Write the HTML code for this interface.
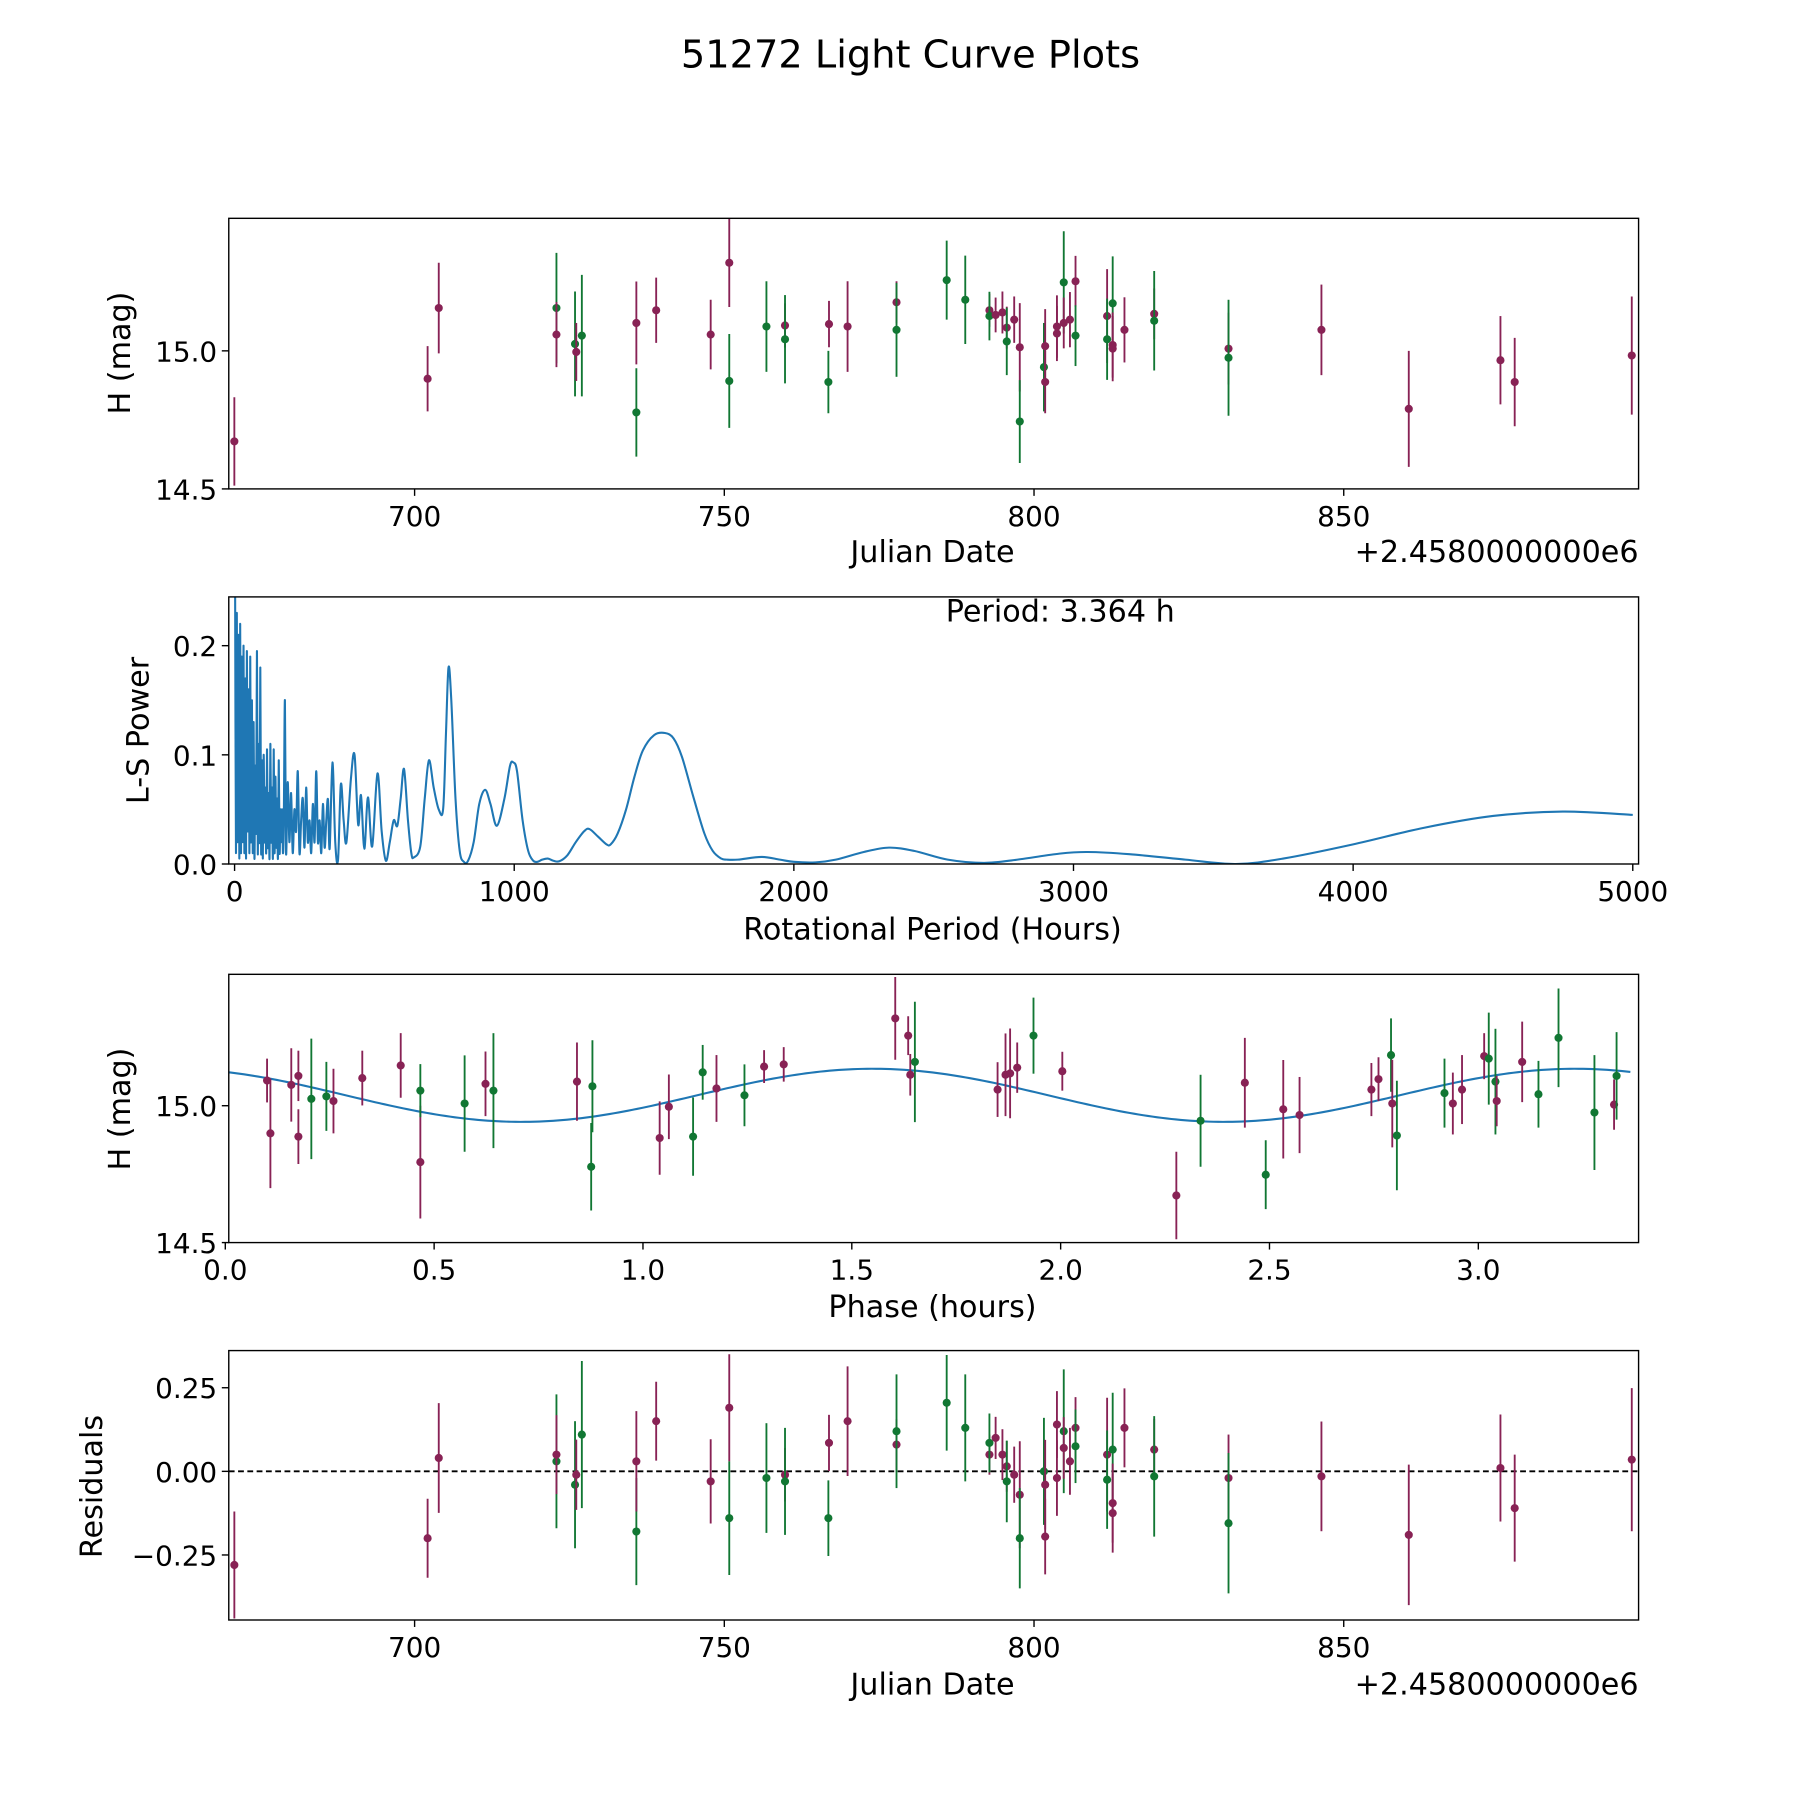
<!DOCTYPE html>
<html><head><meta charset="utf-8"><title>51272 Light Curve Plots</title>
<style>
html,body{margin:0;padding:0;background:#fff;}
svg{display:block;font-family:"DejaVu Sans","Liberation Sans",sans-serif;}
</style></head>
<body>
<svg id="fig" width="1800" height="1800" viewBox="0 0 1550 1550" xmlns="http://www.w3.org/2000/svg">
<rect width="1550" height="1550" fill="#fff"/>
<text x="784" y="58" font-size="33" text-anchor="middle">51272 Light Curve Plots</text>
<defs>
<clipPath id="c1"><rect x="197" y="188" width="1214" height="233"/></clipPath>
<clipPath id="c2"><rect x="197" y="514" width="1214" height="230"/></clipPath>
<clipPath id="c3"><rect x="197" y="839" width="1214" height="231"/></clipPath>
<clipPath id="c4"><rect x="197" y="1163" width="1214" height="232"/></clipPath>
</defs>
<g id="g1"></g>
<g id="g2"></g>
<g id="g3"></g>
<g id="g4"></g>
</svg>
<script>
// ---- data: light curve ----
const jd = [670.9,702.1,703.9,722.9,722.9,725.9,726.1,727.0,735.8,735.8,739.0,747.8,750.8,750.8,756.8,759.8,759.8,766.8,766.9,769.9,777.8,777.8,785.9,788.9,792.8,792.8,793.8,794.9,795.6,795.6,796.8,797.7,797.7,801.6,801.8,801.8,803.7,803.7,804.8,804.8,805.8,806.7,806.7,811.8,811.8,812.7,812.7,812.7,814.6,819.4,819.4,831.4,831.4,846.4,860.5,875.3,877.6,896.5];
const mag = [14.672,14.899,15.155,15.155,15.059,15.025,14.996,15.055,14.777,15.101,15.147,15.059,15.319,14.891,15.088,15.092,15.042,14.887,15.097,15.088,15.176,15.076,15.256,15.185,15.147,15.126,15.13,15.139,15.084,15.034,15.113,15.013,14.744,14.941,15.017,14.887,15.063,15.088,15.248,15.101,15.113,15.252,15.055,15.126,15.042,15.172,15.021,15.008,15.076,15.134,15.109,15.008,14.975,15.076,14.79,14.966,14.887,14.983];
const magErr = [.16,.118,.164,.2,.118,.19,.105,.22,.16,.15,.118,.126,.16,.17,.164,.08,.16,.113,.084,.164,.076,.17,.143,.16,.06,.088,.063,.076,.076,.122,.084,.16,.15,.16,.134,.113,.1,.113,.185,.092,.1,.092,.11,.17,.147,.17,.118,.118,.118,.092,.18,.13,.21,.164,.21,.16,.16,.214];
const band = ["m","m","m","g","m","g","m","g","g","m","m","m","m","g","g","m","g","g","m","m","m","g","g","g","m","g","m","m","m","g","m","m","g","g","m","m","m","m","g","m","m","m","g","m","g","g","m","m","m","m","g","m","g","m","m","m","m","m"];
const residual = [-0.28,-0.20,0.04,0.03,0.05,-0.04,-0.01,0.11,-0.18,0.03,0.15,-0.03,0.19,-0.14,-0.02,-0.01,-0.03,-0.14,0.085,0.15,0.08,0.12,0.205,0.13,0.05,0.085,0.10,0.05,0.015,-0.03,-0.01,-0.07,-0.20,0.0,-0.04,-0.195,0.14,-0.02,0.12,0.07,0.03,0.13,0.075,0.05,-0.025,0.065,-0.095,-0.125,0.13,0.065,-0.015,-0.02,-0.155,-0.015,-0.19,0.01,-0.11,0.035];
// ---- data: phase folded ----
const phase = [.100,.108,.158,.175,.175,.206,.242,.259,.328,.420,.467,.467,.573,.623,.642,.842,.879,.876,1.040,1.062,1.120,1.143,1.176,1.243,1.290,1.337,1.604,1.635,1.651,1.640,1.849,1.868,1.879,1.896,1.935,2.004,2.277,2.335,2.441,2.491,2.533,2.572,2.744,2.761,2.791,2.794,2.805,2.919,2.939,2.961,3.014,3.025,3.041,3.044,3.105,3.144,3.192,3.278,3.325,3.331];
const phaseMag = [15.092,14.899,15.076,14.887,15.109,15.025,15.034,15.017,15.101,15.147,14.794,15.055,15.008,15.080,15.055,15.088,15.071,14.777,14.882,14.996,14.887,15.122,15.063,15.038,15.143,15.151,15.319,15.256,15.160,15.113,15.059,15.113,15.118,15.139,15.256,15.126,14.672,14.945,15.084,14.748,14.987,14.966,15.059,15.097,15.185,15.008,14.891,15.046,15.008,15.059,15.181,15.172,15.088,15.017,15.160,15.042,15.248,14.975,15.004,15.109];
const phaseErr = [.08,.2,.134,.1,.092,.22,.126,.118,.1,.118,.206,.097,.176,.118,.21,.143,.168,.16,.134,.118,.143,.1,.122,.113,.06,.063,.151,.071,.22,.076,.1,.151,.164,.092,.139,.071,.16,.168,.164,.126,.18,.139,.097,.08,.134,.16,.2,.126,.113,.126,.084,.168,.193,.092,.147,.122,.18,.21,.092,.16];
const phaseBand = ["m","m","m","m","m","g","g","m","m","m","m","g","g","m","g","m","g","g","m","m","g","g","m","g","m","m","m","m","g","m","m","m","m","m","g","m","m","g","m","g","m","m","m","m","g","m","g","g","m","m","m","g","g","m","m","g","g","g","m","g"];
const fitMean = 15.038, fitAmp = 0.097, fitPeriod = 1.682, fitPeak = 1.55, foldLen = 3.364;
// ---- data: periodogram ----
const lsPeriod = [2,5,8,11,14,17,20,23,26,29,32,35,38,41,44,47,50,53,56,59,62,65,68,71,74,77,80,83,86,89,92,95,98,101,104,107,110,113,116,119,122,125,128,131,134,137,140,143,146,149,152,155,158,161,164,167,170,173,176,180,184,190,196,202,208,214,220,226,232,238,244,250,256,262,268,274,280,286,292,298,304,310,316,322,328,334,340,350,360,370,380,390,400,416,429,442,452,464,477,492,511,526,541,555,569,582,594,606,620,632,641,664,680,695,712,730,746,756,765,775,790,805,820,835,855,875,896,915,938,965,985,997,1010,1030,1050,1068,1083,1100,1120,1140,1161,1190,1220,1250,1269,1300,1330,1345,1370,1400,1430,1460,1500,1539,1570,1600,1640,1680,1710,1740,1760,1800,1884,1950,2000,2077,2150,2250,2340,2430,2550,2680,2800,2950,3050,3200,3400,3580,3750,4000,4250,4500,4750,5000];
const lsPower = [.245,.01,.23,.02,.21,.005,.22,.01,.19,.02,.2,.01,.17,.005,.195,.03,.16,.01,.19,.02,.15,.01,.13,.005,.09,.03,.195,.01,.11,.02,.18,.01,.095,.005,.10,.02,.07,.01,.105,.015,.065,.005,.11,.02,.07,.005,.105,.01,.08,.015,.06,.005,.095,.01,.05,.02,.05,.01,.04,.15,.01,.075,.02,.065,.01,.05,.03,.085,.01,.04,.06,.015,.07,.02,.04,.01,.055,.02,.085,.02,.04,.01,.055,.015,.04,.059,.014,.093,.02,.004,.073,.04,.02,.078,.1,.036,.063,.014,.061,.016,.083,.03,.003,.02,.04,.035,.06,.087,.04,.01,.006,.016,.06,.095,.07,.05,.051,.12,.18,.15,.06,.012,.002,.003,.02,.055,.068,.055,.035,.06,.09,.093,.085,.04,.012,.003,.002,.004,.005,.003,.0025,.008,.02,.03,.032,.025,.018,.018,.028,.05,.08,.104,.118,.12,.115,.098,.062,.028,.012,.005,.004,.004,.0065,.004,.002,.0015,.004,.011,.015,.012,.004,.001,.004,.0095,.011,.009,.004,.0,.005,.018,.033,.044,.048,.045];
// ---- ticks ----
const jdTicks = [700,750,800,850];
const magTicks = [14.5,15.0];
const lsXTicks = [0,1000,2000,3000,4000,5000];
const lsYTicks = [0.0,0.1,0.2];
const phaseTicks = [0.0,0.5,1.0,1.5,2.0,2.5,3.0];
const resTicks = [-0.25,0.0,0.25];

const NS="http://www.w3.org/2000/svg";
const COL={m:"#882255",g:"#117733"};
function mk(parent,tag,attrs,text){const e=document.createElementNS(NS,tag);for(const k in attrs)e.setAttribute(k,attrs[k]);if(text!==undefined)e.textContent=text;parent.appendChild(e);return e;}
function lin(d0,d1,r0,r1){return v=>r0+(v-d0)*(r1-r0)/(d1-d0);}
const L=197,R=1411;
const P=[{t:188,b:421},{t:514,b:744},{t:839,b:1070},{t:1163,b:1395}];
const x1=lin(670,897.6,L,R), y1=lin(14.5,15.48,421,188);
const x2=lin(0,5000,202,1406), y2=lin(0,0.2,744,556);
const x3=lin(0,3,194,1273), y3=lin(14.5,15.48,1070,839);
const x4=x1, y4=lin(0,0.25,1267,1195);
const TF=24, LF=26;

function frame(g,p){
  const r=mk(g,'rect',{x:L,y:p.t,width:R-L,height:p.b-p.t,fill:'none',stroke:'#000','stroke-width':1.2});
  
  
}
function xticks(g,p,vals,sx,fmt){
  vals.forEach(v=>{const x=sx(v);
    mk(g,'line',{x1:x,x2:x,y1:p.b,y2:p.b+6,stroke:'#000','stroke-width':1.2});
    const t=mk(g,'text',{x:x,y:p.b+32,'font-size':TF,'text-anchor':'middle'},fmt(v));
    
    
  });
}
function yticks(g,vals,sy,fmt){
  vals.forEach(v=>{const y=sy(v);
    mk(g,'line',{x1:L-6,x2:L,y1:y,y2:y,stroke:'#000','stroke-width':1.2});
    const t=mk(g,'text',{x:L-10,y:y+9,'font-size':TF,'text-anchor':'end'},fmt(v));
    
    
  });
}
function label(g,x,y,txt,name,rot,anchor){
  const t=mk(g,'text',{x:x,y:y,'font-size':LF,'text-anchor':anchor||'middle'},txt);
  if(rot)t.setAttribute('transform','rotate(-90 '+x+' '+y+')');
  
  
}
function errpts(g,xs,ys,es,bands,sx,sy,clip){
  const gg=mk(g,'g',{'clip-path':'url(#'+clip+')'});
  xs.forEach((xv,i)=>{const c=COL[bands[i]]||COL.m;const x=sx(xv),y=sy(ys[i]);
    const e=es[i];
    const ln=mk(gg,'line',{x1:x,x2:x,y1:sy(ys[i]-e),y2:sy(ys[i]+e),stroke:c,'stroke-width':1.6});
    
    
    const pt=mk(gg,'circle',{cx:x,cy:y,r:3.5,fill:c});
    
    
  });
}
function smoothPath(pts){
  let d='M'+pts[0][0]+','+pts[0][1];
  for(let i=0;i<pts.length-1;i++){
    const p0=pts[Math.max(0,i-1)],p1=pts[i],p2=pts[i+1],p3=pts[Math.min(pts.length-1,i+2)];
    const c1x=p1[0]+(p2[0]-p0[0])/6,c1y=p1[1]+(p2[1]-p0[1])/6;
    const c2x=p2[0]-(p3[0]-p1[0])/6,c2y=p2[1]-(p3[1]-p1[1])/6;
    d+=' C'+c1x+','+c1y+' '+c2x+','+c2y+' '+p2[0]+','+p2[1];
  }
  return d;
}
const f1=v=>v.toFixed(1), f0=v=>String(v), f2=v=>(v<0?'\u2212':'')+Math.abs(v).toFixed(2);

// panel 1
const g1=document.getElementById('g1');
errpts(g1,jd,mag,magErr,band,x1,y1,'c1');
frame(g1,P[0]);xticks(g1,P[0],jdTicks,x1,f0);yticks(g1,magTicks,y1,f1);
label(g1,803,484,'Julian Date','x-axis-title');
label(g1,1411,484,'+2.4580000000e6','x-offset-text',false,'end');
label(g1,112,304,'H (mag)','y-axis-title',true);

// panel 2
const g2=document.getElementById('g2');
const gc2=mk(g2,'g',{'clip-path':'url(#c2)'});
const pl=mk(gc2,'path',{d:smoothPath(lsPeriod.map((p,i)=>[x2(p),y2(lsPower[i])])),fill:'none',stroke:'#1f77b4','stroke-width':1.8,'stroke-linejoin':'round'});


frame(g2,P[1]);xticks(g2,P[1],lsXTicks,x2,f0);yticks(g2,lsYTicks,y2,f1);
label(g2,803,809,'Rotational Period (Hours)','x-axis-title');
label(g2,128,629,'L-S Power','y-axis-title',true);
label(g2,913,535,'Period: 3.364 h','period-annotation');

// panel 3
const g3=document.getElementById('g3');
const gc3=mk(g3,'g',{'clip-path':'url(#c3)'});
let pts=[];for(let i=0;i<=300;i++){const p=foldLen*i/300;pts.push(x3(p)+','+y3(fitMean+fitAmp*Math.cos(2*Math.PI*(p-fitPeak)/fitPeriod)));}
const fl=mk(gc3,'polyline',{points:pts.join(' '),fill:'none',stroke:'#1f77b4','stroke-width':1.8});


errpts(g3,phase,phaseMag,phaseErr,phaseBand,x3,y3,'c3');
frame(g3,P[2]);xticks(g3,P[2],phaseTicks,x3,f1);yticks(g3,magTicks,y3,f1);
label(g3,803,1134,'Phase (hours)','x-axis-title');
label(g3,112,955,'H (mag)','y-axis-title',true);

// panel 4
const g4=document.getElementById('g4');
const zl=mk(g4,'line',{x1:L,x2:R,y1:y4(0),y2:y4(0),stroke:'#000','stroke-width':1.6,'stroke-dasharray':'5,3'});


errpts(g4,jd,residual,magErr,band,x4,y4,'c4');
frame(g4,P[3]);xticks(g4,P[3],jdTicks,x1,f0);yticks(g4,resTicks,y4,f2);
label(g4,803,1459,'Julian Date','x-axis-title');
label(g4,1411,1459,'+2.4580000000e6','x-offset-text',false,'end');
label(g4,88,1280,'Residuals','y-axis-title',true);
</script>
</body></html>
